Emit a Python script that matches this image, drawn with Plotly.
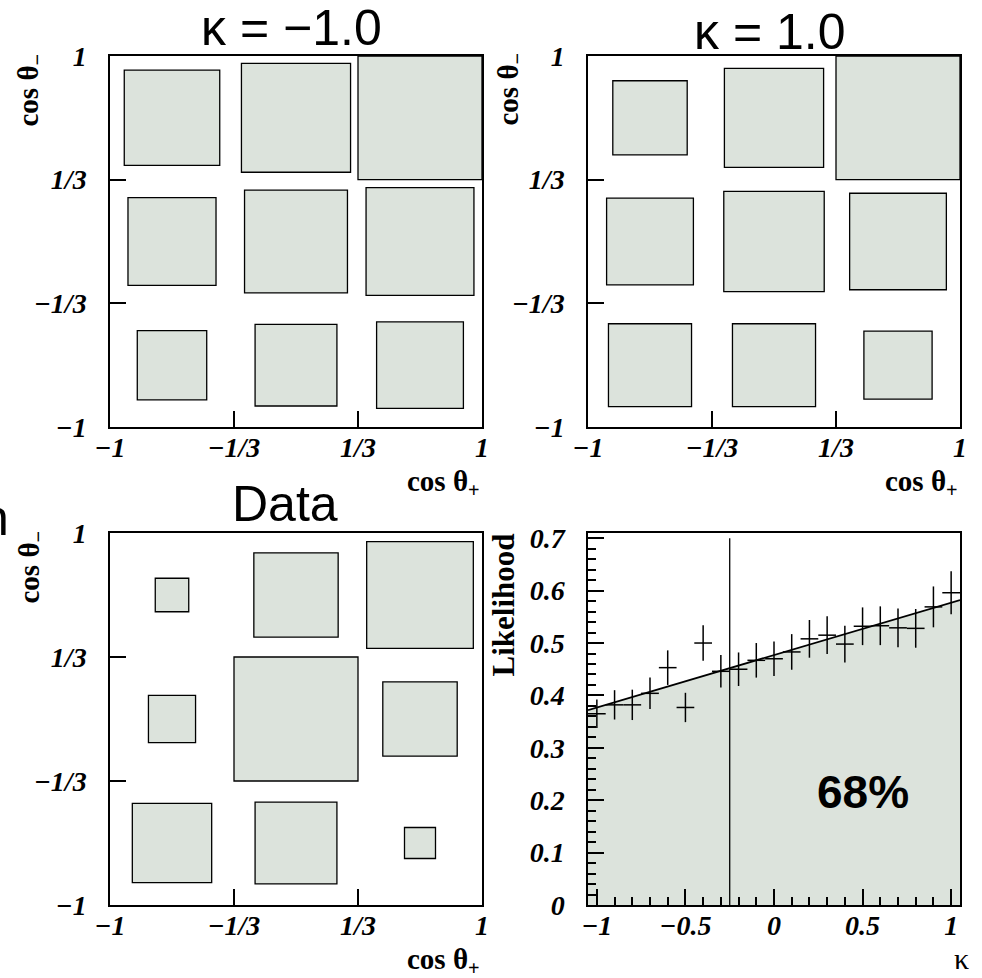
import plotly.graph_objects as go

W, H = 982, 978

# ---- 3x3 angular histograms: cos(theta+) on x, cos(theta-) on y ----
bin_edges = [-1.0, -1/3, 1/3, 1.0]
tick_vals = [-1.0, -1/3, 1/3, 1.0]
tick_text = ["\u22121", "\u22121/3", "1/3", "1"]

# relative box size per cell; rows go from cos(theta-) low (bottom) to high (top)
kappa_m1_cells = [
    [0.56, 0.66, 0.70],
    [0.71, 0.83, 0.87],
    [0.77, 0.88, 1.00],
]
kappa_p1_cells = [
    [0.67, 0.67, 0.55],
    [0.70, 0.81, 0.78],
    [0.60, 0.80, 1.00],
]
data_cells = [
    [0.64, 0.66, 0.25],
    [0.38, 1.00, 0.60],
    [0.27, 0.68, 0.86],
]
panel_titles = ["\u03ba = \u22121.0", "\u03ba = 1.0", "Data"]

# ---- likelihood scan versus kappa ----
kappa = [-1.0, -0.9, -0.8, -0.7, -0.6, -0.5, -0.4, -0.3, -0.2, -0.1, 0.0,
         0.1, 0.2, 0.3, 0.4, 0.5, 0.6, 0.7, 0.8, 0.9, 1.0]
likelihood = [0.365, 0.382, 0.382, 0.404, 0.453, 0.377, 0.500, 0.446, 0.450,
              0.467, 0.470, 0.483, 0.508, 0.515, 0.498, 0.532, 0.533, 0.529,
              0.528, 0.569, 0.596]
likelihood_err = [0.027, 0.028, 0.029, 0.030, 0.033, 0.028, 0.034, 0.031,
                  0.032, 0.033, 0.033, 0.034, 0.036, 0.036, 0.035, 0.036,
                  0.037, 0.037, 0.037, 0.039, 0.041]
kappa_bin_half = 0.05
fit_kappa = [-1.05, 1.05]
fit_likelihood = [0.372, 0.582]
kappa_limit = -0.25
limit_top = 0.70
limit_label = "68%"
kappa_ticks = [-1, -0.5, 0, 0.5, 1]
kappa_tick_text = ["\u22121", "\u22120.5", "0", "0.5", "1"]
like_ticks = [0, 0.1, 0.2, 0.3, 0.4, 0.5, 0.6, 0.7]
like_tick_text = ["0", "0.1", "0.2", "0.3", "0.4", "0.5", "0.6", "0.7"]

BOX_FILL = "#dce3dc"
SERIF = "Liberation Serif"
SANS = "Liberation Sans"

# frame positions in pixels (left, right, top, bottom)
frames = [
    (110, 482, 56, 427),
    (588, 960, 56, 427),
    (110, 482, 533, 905),
    (588, 960, 533, 905),
]


def px_x(p):
    return p / W


def px_y(p):
    return 1 - p / H


tick_font = dict(family=SERIF, size=28, color="black", weight="bold", style="italic")

fig = go.Figure()
layout = dict(
    width=W, height=H, margin=dict(l=0, r=0, t=0, b=0, autoexpand=False),
    paper_bgcolor="white", plot_bgcolor="white", showlegend=False,
    shapes=[], annotations=[],
)

for i, (l, r, t, b) in enumerate(frames):
    n = i + 1
    xa = dict(
        domain=[px_x(l), px_x(r)], anchor=f"y{n}", automargin=False,
        showline=True, linecolor="black", linewidth=1.5, mirror=True,
        ticks="inside", tickcolor="black", tickwidth=1.5,
        showgrid=False, zeroline=False, tickfont=tick_font,
    )
    ya = dict(xa)
    ya["domain"] = [px_y(b), px_y(t)]
    ya["anchor"] = f"x{n}"
    if i < 3:
        xa.update(range=[-1, 1], tickmode="array", tickvals=tick_vals,
                  ticktext=tick_text, ticklen=16, ticklabelstandoff=-5)
        ya.update(range=[-1, 1], tickmode="array", tickvals=tick_vals,
                  ticktext=tick_text, ticklen=16, ticklabelstandoff=16)
    else:
        xa.update(range=[-1.05, 1.05], tickmode="array",
                  tickvals=kappa_ticks, ticktext=kappa_tick_text,
                  ticklen=16, ticklabelstandoff=-5,
                  minor=dict(tickmode="linear", tick0=0, dtick=0.1, ticklen=8,
                             ticks="inside", tickcolor="black", tickwidth=1.5,
                             showgrid=False))
        ya.update(range=[0, 0.71], tickmode="array", tickvals=like_ticks,
                  ticktext=like_tick_text, ticklen=16, ticklabelstandoff=16,
                  minor=dict(tickmode="linear", tick0=0, dtick=0.02, ticklen=8,
                             ticks="inside", tickcolor="black", tickwidth=1.5,
                             showgrid=False))
    layout[f"xaxis{n if n > 1 else ''}"] = xa
    layout[f"yaxis{n if n > 1 else ''}"] = ya

# box histograms
for i, cells in enumerate([kappa_m1_cells, kappa_p1_cells, data_cells]):
    n = i + 1
    xr = "x" if n == 1 else f"x{n}"
    yr = "y" if n == 1 else f"y{n}"
    vmax = max(max(row) for row in cells)
    fig.add_trace(go.Scatter(x=[None], y=[None], xaxis=xr, yaxis=yr,
                             showlegend=False, hoverinfo="skip"))
    for row, vals in enumerate(cells):
        cy = 0.5 * (bin_edges[row] + bin_edges[row + 1])
        hy = 0.5 * (bin_edges[row + 1] - bin_edges[row])
        for col, v in enumerate(vals):
            cx = 0.5 * (bin_edges[col] + bin_edges[col + 1])
            hx = 0.5 * (bin_edges[col + 1] - bin_edges[col])
            s = v / vmax
            layout["shapes"].append(dict(
                type="rect", xref=xr, yref=yr,
                x0=cx - hx * s, x1=cx + hx * s, y0=cy - hy * s, y1=cy + hy * s,
                fillcolor=BOX_FILL, line=dict(color="black", width=1.3),
                layer="above",
            ))

# likelihood panel
fig.add_trace(go.Scatter(
    x=fit_kappa, y=fit_likelihood, xaxis="x4", yaxis="y4", mode="lines",
    fill="tozeroy", fillcolor=BOX_FILL, line=dict(color="black", width=1.8),
    hoverinfo="skip",
))
fig.add_trace(go.Scatter(
    x=[kappa_limit, kappa_limit], y=[0, limit_top], xaxis="x4", yaxis="y4",
    mode="lines", line=dict(color="black", width=1.3), hoverinfo="skip",
))
fig.add_trace(go.Scatter(
    x=kappa, y=likelihood, xaxis="x4", yaxis="y4", mode="markers",
    marker=dict(size=1, color="black"),
    error_x=dict(type="constant", value=kappa_bin_half, width=0,
                 thickness=1.5, color="black"),
    error_y=dict(type="data", array=likelihood_err, width=0,
                 thickness=1.5, color="black"),
))

ann = layout["annotations"]
ann.append(dict(x=0.5, y=0.215, xref="x4", yref="y4", text=f"<b>{limit_label}</b>",
                showarrow=False, font=dict(family=SANS, size=46, color="black")))

# panel titles
title_pos = [(291, 28), (770, 32), (285, 504)]
for (cx, cy), txt in zip(title_pos, panel_titles):
    ann.append(dict(x=px_x(cx), y=px_y(cy), xref="paper", yref="paper",
                    xanchor="center", yanchor="middle", text=txt, showarrow=False,
                    font=dict(family=SANS, size=50, color="black")))

# y-axis titles (rotated, aligned with top of frame)
ytitles = [
    (30, 52, "cos \u03b8<sub>\u2212</sub>", 29),
    (509, 50, "cos \u03b8<sub>\u2212</sub>", 29),
    (30, 529, "cos \u03b8<sub>\u2212</sub>", 29),
    (503, 532, "Likelihood", 31),
]
for cx, top, txt, size in ytitles:
    ann.append(dict(x=px_x(cx), y=px_y(top), xref="paper", yref="paper",
                    xanchor="center", yanchor="top", textangle=-90,
                    text=f"<b>{txt}</b>", showarrow=False,
                    font=dict(family=SERIF, size=size, color="black")))

# x-axis titles (aligned with right edge of frame)
xtitles = [(482, 463), (960, 463), (482, 941)]
for right, top in xtitles:
    ann.append(dict(x=px_x(right), y=px_y(top), xref="paper", yref="paper",
                    xanchor="right", yanchor="top",
                    text="<b>cos \u03b8<sub>+</sub></b>", showarrow=False,
                    font=dict(family=SERIF, size=29, color="black")))
ann.append(dict(x=px_x(961), y=px_y(958), xref="paper", yref="paper",
                xanchor="center", yanchor="middle", text="\u03ba",
                showarrow=False, font=dict(family=SERIF, size=30, color="black")))

# partially visible lettering at the left page edge
ann.append(dict(x=px_x(11), y=px_y(518), xref="paper", yref="paper",
                xanchor="right", yanchor="middle", text="n", showarrow=False,
                font=dict(family=SANS, size=50, color="black")))

fig.update_layout(**layout)
fig.write_html("out.html")
